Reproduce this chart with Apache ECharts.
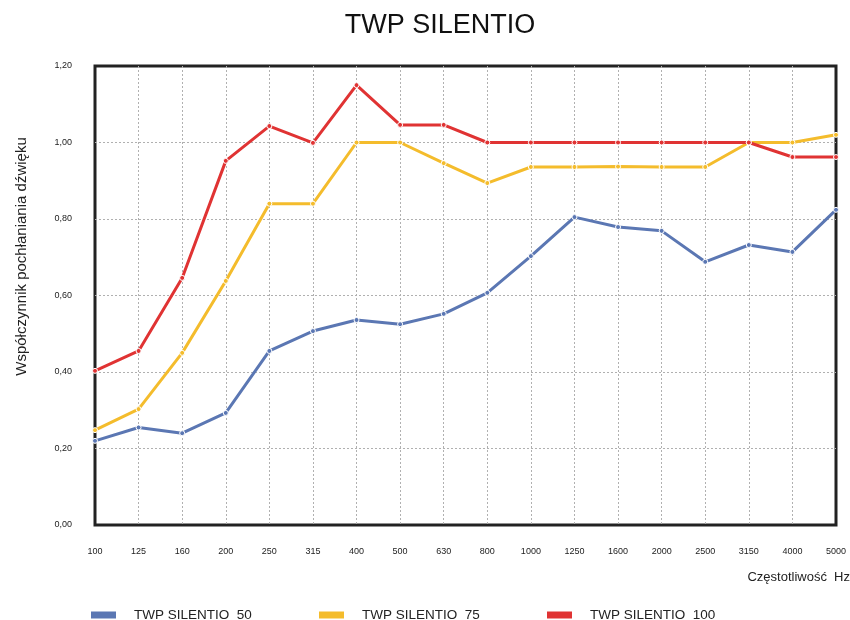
<!DOCTYPE html>
<html>
<head>
<meta charset="utf-8">
<script src="https://cdn.jsdelivr.net/npm/echarts@6/dist/echarts.min.js"></script>
<style>
  html, body { margin: 0; padding: 0; background: #fff; }
  #main { width: 850px; height: 620px; }
</style>
</head>
<body>
<div id="main"></div>
<script>
// dane z wykresu
var frequencies = ['100', '125', '160', '200', '250', '315', '400', '500', '630', '800', '1000', '1250', '1600', '2000', '2500', '3150', '4000', '5000'];
var silentio50 = [0.22, 0.255, 0.24, 0.293, 0.455, 0.507, 0.536, 0.525, 0.552, 0.607, 0.703, 0.805, 0.779, 0.769, 0.688, 0.732, 0.714, 0.824];
var silentio75 = [0.248, 0.303, 0.45, 0.638, 0.84, 0.84, 1.0, 1.0, 0.946, 0.894, 0.936, 0.936, 0.937, 0.936, 0.936, 1.0, 1.0, 1.02];
var silentio100 = [0.403, 0.455, 0.646, 0.952, 1.043, 0.999, 1.15, 1.046, 1.046, 1.0, 1.0, 1.0, 1.0, 1.0, 1.0, 1.0, 0.962, 0.962];
var seriesNames = ['TWP SILENTIO  50', 'TWP SILENTIO  75', 'TWP SILENTIO  100'];
var colors = ['#5b77b3', '#f4bc2c', '#e03333'];

var dom = document.getElementById('main');
var myChart = echarts.init(dom);

function makeLine(name, data, color) {
    return {
        name: name,
        type: 'line',
        data: data,
        symbol: 'circle',
        symbolSize: 5,
        lineStyle: { width: 3, color: color },
        itemStyle: { color: color, borderColor: '#fff', borderWidth: 1 },
        emphasis: { disabled: true }
    };
}

function makeLegend(name, left) {
    return {
        data: [name],
        left: left,
        top: 608,
        padding: 0,
        icon: 'rect',
        itemWidth: 27,
        itemHeight: 9,
        textStyle: { fontSize: 13.5, color: '#222', padding: [0, 0, 0, 12], fontFamily: 'Liberation Sans' }
    };
}

var gridLine = { show: true, showMinLine: false, showMaxLine: false, lineStyle: { color: '#b0b0b0', type: [2, 2], width: 1 } };

var option = {
    animation: false,
    color: colors,
    textStyle: { fontFamily: 'Liberation Sans' },
    title: {
        text: 'TWP SILENTIO',
        left: 435,
        textAlign: 'center',
        top: 7,
        textStyle: { fontSize: 27, fontWeight: 'normal', color: '#111', fontFamily: 'Liberation Sans' }
    },
    legend: [
        makeLegend(seriesNames[0], 89),
        makeLegend(seriesNames[1], 317),
        makeLegend(seriesNames[2], 545)
    ],
    grid: {
        left: 95, right: 14, top: 66, bottom: 95,
        outerBoundsMode: 'none',
        containLabel: false,
        show: true,
        borderColor: '#222',
        borderWidth: 3
    },
    xAxis: {
        type: 'category',
        data: frequencies,
        boundaryGap: false,
        name: 'Częstotliwość  Hz',
        nameLocation: 'end',
        nameGap: 0,
        nameTextStyle: { fontSize: 13, color: '#222', align: 'right', verticalAlign: 'top', padding: [46, -14, 0, 0] },
        axisLine: { show: false },
        axisTick: { show: false },
        axisLabel: { fontSize: 9, color: '#222', margin: 22 },
        splitLine: gridLine
    },
    yAxis: {
        type: 'value',
        min: 0,
        max: 1.2,
        interval: 0.2,
        name: 'Współczynnik pochłaniania dźwięku',
        nameLocation: 'middle',
        nameGap: 66,
        nameTextStyle: { fontSize: 15, color: '#222', padding: [0, 0, 0, 78] },
        axisLine: { show: false },
        axisTick: { show: false },
        axisLabel: {
            fontSize: 9,
            color: '#222',
            margin: 23,
            formatter: function (v) { return v.toFixed(2).replace('.', ','); }
        },
        splitLine: gridLine
    },
    series: [
        makeLine(seriesNames[0], silentio50, colors[0]),
        makeLine(seriesNames[1], silentio75, colors[1]),
        makeLine(seriesNames[2], silentio100, colors[2])
    ]
};

if (option && typeof option === 'object') {
    myChart.setOption(option, true);
}
</script>
</body>
</html>
